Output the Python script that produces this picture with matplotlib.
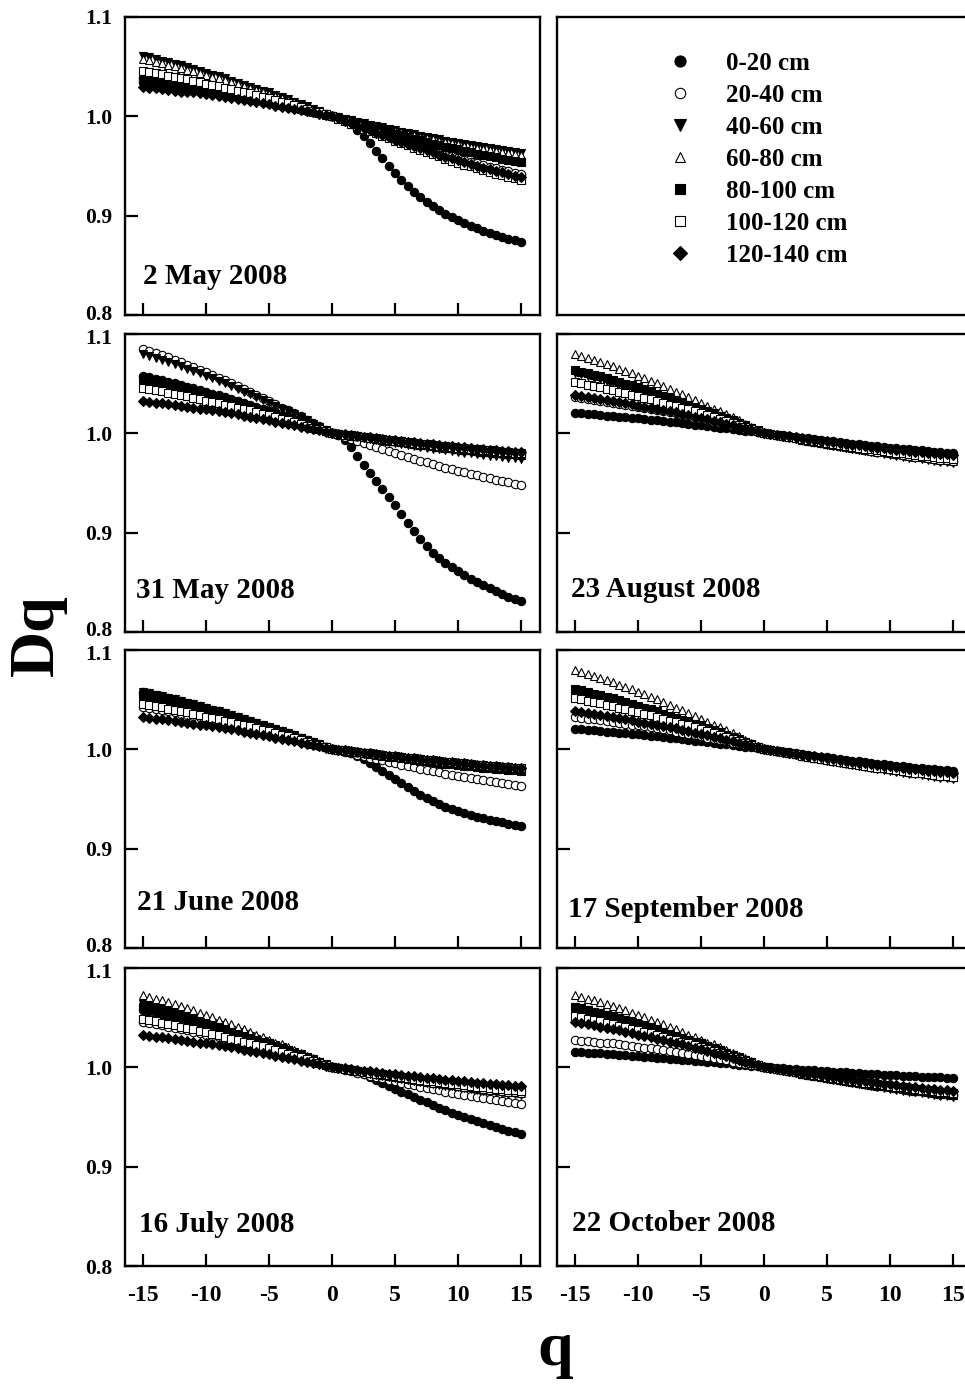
"""Generalised dimensions Dq against q for seven soil layers, seven dates"""

import numpy as np
import matplotlib
matplotlib.use("Agg")
import matplotlib.pyplot as plt
from matplotlib.lines import Line2D
from matplotlib.transforms import offset_copy

plt.rcParams['font.family'] = ['Liberation Serif', 'DejaVu Serif']
plt.rcParams['font.weight'] = 'bold'
plt.rcParams['axes.unicode_minus'] = False

# moment order q
q = [-15, -14.5, -14, -13.5, -13, -12.5, -12, -11.5, -11, -10.5, -10, -9.5, -9, -8.5, -8, -7.5,
     -7, -6.5, -6, -5.5, -5, -4.5, -4, -3.5, -3, -2.5, -2, -1.5, -1, -0.5, 0,
     0.5, 1, 1.5, 2, 2.5, 3, 3.5, 4, 4.5, 5, 5.5, 6, 6.5, 7, 7.5, 8, 8.5, 9, 9.5, 10,
     10.5, 11, 11.5, 12, 12.5, 13, 13.5, 14, 14.5, 15]

layers = ['0-20 cm', '20-40 cm', '40-60 cm', '60-80 cm', '80-100 cm', '100-120 cm', '120-140 cm']
y_ticks = [0.8, 0.9, 1.0, 1.1]
x_ticks = [-15, -10, -5, 0, 5, 10, 15]

# Dq, stored as (Dq - 1) in thousandths
# --- 2 May 2008
may02_0_20 = [35, 34, 33, 32, 32, 31, 30, 29, 28, 27, 25, 24, 23, 22, 21, 20, 19, 17, 16, 15, 13, 12, 11, 10, 8, 7, 5, 4, 3, 1, 0,
              -1, -4, -8, -14, -20, -27, -35, -42, -50, -57, -64, -70, -76, -81, -86, -90, -94, -98, -101, -104, -107, -110, -112, -115, -117, -119, -121, -123, -125, -127]
may02_20_40 = [39, 38, 37, 36, 35, 34, 33, 32, 31, 30, 28, 27, 26, 25, 23, 22, 21, 19, 18, 16, 15, 14, 12, 11, 9, 8, 6, 5, 3, 2, 0,
               -2, -5, -7, -9, -11, -14, -16, -18, -20, -22, -25, -27, -29, -31, -33, -35, -37, -39, -40, -42, -44, -46, -47, -49, -51, -52, -54, -55, -57, -58]
may02_40_60 = [61, 60, 58, 56, 55, 53, 52, 50, 48, 46, 44, 42, 41, 39, 36, 34, 32, 30, 28, 26, 24, 21, 19, 17, 14, 12, 10, 7, 5, 2, 0,
               -1, -3, -4, -6, -7, -9, -10, -11, -13, -14, -16, -17, -18, -20, -21, -22, -23, -25, -26, -27, -28, -29, -30, -31, -32, -33, -34, -35, -36, -37]
may02_60_80 = [58, 57, 55, 54, 52, 51, 49, 47, 46, 44, 42, 40, 39, 37, 35, 33, 31, 29, 27, 25, 22, 20, 18, 16, 14, 11, 9, 7, 5, 2, 0,
               -2, -3, -5, -6, -8, -9, -11, -12, -14, -15, -16, -18, -19, -21, -22, -23, -25, -26, -27, -28, -30, -31, -32, -33, -34, -35, -36, -37, -38, -39]
may02_80_100 = [37, 36, 35, 34, 33, 32, 31, 30, 29, 28, 27, 26, 25, 23, 22, 21, 20, 18, 17, 16, 14, 13, 11, 10, 9, 7, 6, 4, 3, 1, 0,
                -2, -4, -5, -7, -9, -11, -13, -14, -16, -18, -19, -21, -23, -24, -26, -28, -29, -31, -32, -33, -35, -36, -38, -39, -40, -41, -43, -44, -45, -46]
may02_100_120 = [46, 45, 44, 43, 41, 40, 39, 38, 36, 35, 33, 32, 31, 29, 28, 26, 24, 23, 21, 19, 18, 16, 14, 13, 11, 9, 7, 5, 4, 2, 0,
                 -3, -5, -8, -10, -13, -15, -17, -20, -22, -25, -27, -29, -32, -34, -36, -38, -40, -43, -45, -47, -49, -50, -52, -54, -56, -58, -59, -61, -62, -64]
may02_120_140 = [30, 29, 29, 28, 27, 26, 25, 25, 24, 23, 22, 21, 20, 19, 18, 17, 16, 15, 14, 13, 12, 10, 9, 8, 7, 6, 5, 4, 2, 1, 0,
                 -2, -5, -7, -10, -12, -14, -17, -19, -21, -24, -26, -28, -30, -32, -34, -36, -39, -41, -42, -44, -46, -48, -50, -52, -53, -55, -56, -58, -60, -61]

# --- 31 May 2008
may31_0_20 = [58, 57, 55, 54, 52, 51, 49, 47, 46, 44, 42, 40, 39, 37, 35, 33, 31, 29, 27, 25, 22, 20, 18, 16, 14, 11, 9, 7, 5, 2, 0,
              -2, -7, -14, -23, -32, -40, -48, -56, -64, -72, -81, -90, -98, -106, -113, -120, -126, -131, -135, -139, -143, -147, -150, -153, -156, -159, -162, -165, -167, -169]
may31_20_40 = [85, 83, 81, 79, 77, 74, 72, 69, 67, 64, 62, 59, 56, 54, 51, 48, 45, 42, 39, 36, 33, 30, 26, 23, 20, 17, 13, 10, 7, 3, 0,
               -2, -4, -6, -8, -10, -12, -14, -16, -18, -20, -22, -24, -26, -28, -29, -31, -33, -35, -36, -38, -39, -41, -42, -44, -45, -47, -48, -49, -51, -52]
may31_40_60 = [80, 78, 76, 74, 72, 70, 68, 65, 63, 61, 58, 56, 53, 51, 48, 45, 42, 40, 37, 34, 31, 28, 25, 22, 19, 16, 13, 9, 6, 3, 0,
               -1, -2, -3, -4, -5, -6, -7, -8, -9, -10, -11, -12, -13, -14, -15, -16, -16, -17, -18, -19, -20, -20, -21, -22, -23, -23, -24, -25, -25, -26]
may31_60_80 = [52, 51, 49, 48, 47, 45, 44, 42, 41, 39, 38, 36, 35, 33, 31, 29, 28, 26, 24, 22, 20, 18, 16, 14, 12, 10, 8, 6, 4, 2, 0,
               -1, -2, -3, -3, -4, -5, -6, -7, -8, -8, -9, -10, -11, -12, -12, -13, -14, -15, -15, -16, -17, -17, -18, -19, -19, -20, -20, -21, -21, -22]
may31_80_100 = [55, 54, 52, 51, 50, 48, 47, 45, 43, 42, 40, 38, 37, 35, 33, 31, 29, 27, 25, 23, 21, 19, 17, 15, 13, 11, 9, 6, 4, 2, 0,
                -1, -2, -3, -3, -4, -5, -6, -7, -8, -8, -9, -10, -11, -12, -12, -13, -14, -15, -15, -16, -17, -17, -18, -19, -19, -20, -20, -21, -21, -22]
may31_100_120 = [46, 45, 44, 43, 41, 40, 39, 38, 36, 35, 33, 32, 31, 29, 28, 26, 24, 23, 21, 19, 18, 16, 14, 13, 11, 9, 7, 5, 4, 2, 0,
                 -1, -2, -2, -3, -4, -5, -5, -6, -7, -8, -8, -9, -10, -11, -11, -12, -13, -13, -14, -15, -15, -16, -16, -17, -17, -18, -19, -19, -20, -20]
may31_120_140 = [33, 32, 31, 31, 30, 29, 28, 27, 26, 25, 24, 23, 22, 21, 20, 19, 17, 16, 15, 14, 13, 11, 10, 9, 8, 6, 5, 4, 3, 1, 0,
                 -1, -1, -2, -3, -4, -4, -5, -6, -7, -7, -8, -9, -9, -10, -11, -11, -12, -13, -13, -14, -14, -15, -16, -16, -17, -17, -18, -18, -19, -19]

# --- 21 June 2008
jun21_0_20 = [58, 57, 55, 54, 52, 51, 49, 47, 46, 44, 42, 40, 39, 37, 35, 33, 31, 29, 27, 25, 22, 20, 18, 16, 14, 11, 9, 7, 5, 2, 0,
              -1, -2, -4, -7, -10, -14, -18, -22, -26, -30, -34, -38, -42, -46, -49, -52, -55, -58, -60, -62, -64, -66, -68, -69, -71, -72, -73, -75, -76, -77]
jun21_20_40 = [43, 42, 41, 40, 39, 38, 36, 35, 34, 33, 31, 30, 29, 27, 26, 24, 23, 21, 20, 18, 17, 15, 13, 12, 10, 8, 7, 5, 3, 2, 0,
               -1, -3, -4, -6, -7, -9, -10, -11, -13, -14, -16, -17, -18, -20, -21, -22, -23, -25, -26, -27, -28, -29, -30, -31, -32, -33, -34, -35, -36, -37]
jun21_40_60 = [58, 57, 55, 54, 52, 51, 49, 47, 46, 44, 42, 40, 39, 37, 35, 33, 31, 29, 27, 25, 22, 20, 18, 16, 14, 11, 9, 7, 5, 2, 0,
               -1, -2, -3, -3, -4, -5, -6, -7, -8, -8, -9, -10, -11, -12, -12, -13, -14, -15, -15, -16, -17, -17, -18, -19, -19, -20, -20, -21, -21, -22]
jun21_60_80 = [52, 51, 49, 48, 47, 45, 44, 42, 41, 39, 38, 36, 35, 33, 31, 29, 28, 26, 24, 22, 20, 18, 16, 14, 12, 10, 8, 6, 4, 2, 0,
               -1, -2, -2, -3, -4, -5, -5, -6, -7, -8, -8, -9, -10, -11, -11, -12, -13, -13, -14, -15, -15, -16, -16, -17, -17, -18, -19, -19, -20, -20]
jun21_80_100 = [55, 54, 52, 51, 50, 48, 47, 45, 43, 42, 40, 38, 37, 35, 33, 31, 29, 27, 25, 23, 21, 19, 17, 15, 13, 11, 9, 6, 4, 2, 0,
                -1, -2, -3, -3, -4, -5, -6, -7, -8, -8, -9, -10, -11, -12, -12, -13, -14, -15, -15, -16, -17, -17, -18, -19, -19, -20, -20, -21, -21, -22]
jun21_100_120 = [46, 45, 44, 43, 41, 40, 39, 38, 36, 35, 33, 32, 31, 29, 28, 26, 24, 23, 21, 19, 18, 16, 14, 13, 11, 9, 7, 5, 4, 2, 0,
                 -1, -1, -2, -3, -4, -4, -5, -6, -7, -7, -8, -9, -9, -10, -11, -11, -12, -13, -13, -14, -14, -15, -16, -16, -17, -17, -18, -18, -19, -19]
jun21_120_140 = [33, 32, 31, 31, 30, 29, 28, 27, 26, 25, 24, 23, 22, 21, 20, 19, 17, 16, 15, 14, 13, 11, 10, 9, 8, 6, 5, 4, 3, 1, 0,
                 -1, -1, -2, -3, -4, -4, -5, -6, -7, -7, -8, -9, -9, -10, -11, -11, -12, -13, -13, -14, -14, -15, -16, -16, -17, -17, -18, -18, -19, -19]

# --- 16 July 2008
jul16_0_20 = [58, 57, 55, 54, 52, 51, 49, 47, 46, 44, 42, 40, 39, 37, 35, 33, 31, 29, 27, 25, 22, 20, 18, 16, 14, 11, 9, 7, 5, 2, 0,
              -1, -2, -3, -5, -7, -10, -13, -16, -19, -22, -25, -27, -30, -33, -35, -38, -41, -43, -46, -48, -50, -52, -54, -56, -58, -60, -62, -64, -65, -67]
jul16_20_40 = [46, 45, 44, 43, 41, 40, 39, 38, 36, 35, 33, 32, 31, 29, 28, 26, 24, 23, 21, 19, 18, 16, 14, 13, 11, 9, 7, 5, 4, 2, 0,
               -1, -3, -4, -6, -7, -9, -10, -11, -13, -14, -16, -17, -18, -20, -21, -22, -23, -25, -26, -27, -28, -29, -30, -31, -32, -33, -34, -35, -36, -37]
jul16_40_60 = [64, 62, 61, 59, 58, 56, 54, 52, 50, 49, 47, 45, 43, 40, 38, 36, 34, 32, 29, 27, 25, 22, 20, 17, 15, 13, 10, 8, 5, 3, 0,
               -1, -2, -3, -4, -5, -7, -8, -9, -10, -11, -12, -13, -14, -15, -16, -17, -18, -19, -19, -20, -21, -22, -23, -24, -24, -25, -26, -27, -27, -28]
jul16_60_80 = [73, 71, 69, 68, 66, 64, 62, 60, 58, 55, 53, 51, 48, 46, 44, 41, 39, 36, 33, 31, 28, 25, 23, 20, 17, 14, 11, 9, 6, 3, 0,
               -1, -2, -3, -4, -5, -6, -7, -8, -9, -10, -11, -12, -13, -14, -15, -16, -16, -17, -18, -19, -20, -20, -21, -22, -23, -23, -24, -25, -25, -26]
jul16_80_100 = [61, 60, 58, 56, 55, 53, 52, 50, 48, 46, 44, 42, 41, 39, 36, 34, 32, 30, 28, 26, 24, 21, 19, 17, 14, 12, 10, 7, 5, 2, 0,
                -1, -2, -3, -4, -5, -6, -7, -7, -8, -9, -10, -11, -12, -13, -14, -14, -15, -16, -17, -17, -18, -19, -20, -20, -21, -22, -22, -23, -23, -24]
jul16_100_120 = [49, 48, 47, 45, 44, 43, 41, 40, 39, 37, 36, 34, 33, 31, 29, 28, 26, 24, 22, 21, 19, 17, 15, 13, 11, 10, 8, 6, 4, 2, 0,
                 -1, -2, -3, -4, -5, -6, -7, -7, -8, -9, -10, -11, -12, -13, -14, -14, -15, -16, -17, -17, -18, -19, -20, -20, -21, -22, -22, -23, -23, -24]
jul16_120_140 = [33, 32, 31, 31, 30, 29, 28, 27, 26, 25, 24, 23, 22, 21, 20, 19, 17, 16, 15, 14, 13, 11, 10, 9, 8, 6, 5, 4, 3, 1, 0,
                 -1, -1, -2, -3, -4, -4, -5, -6, -7, -7, -8, -9, -9, -10, -11, -11, -12, -13, -13, -14, -14, -15, -16, -16, -17, -17, -18, -18, -19, -19]

# --- 23 August 2008
aug23_0_20 = [20, 20, 19, 19, 18, 17, 17, 16, 16, 15, 15, 14, 13, 13, 12, 11, 11, 10, 9, 8, 8, 7, 6, 5, 5, 4, 3, 2, 2, 1, 0,
              -1, -2, -2, -3, -4, -5, -5, -6, -7, -8, -8, -9, -10, -11, -11, -12, -13, -13, -14, -15, -15, -16, -16, -17, -17, -18, -19, -19, -20, -20]
aug23_20_40 = [37, 36, 35, 34, 33, 32, 31, 30, 29, 28, 27, 26, 25, 23, 22, 21, 20, 18, 17, 16, 14, 13, 11, 10, 9, 7, 6, 4, 3, 1, 0,
               -1, -2, -3, -4, -5, -7, -8, -9, -10, -11, -12, -13, -14, -15, -16, -17, -18, -19, -19, -20, -21, -22, -23, -24, -24, -25, -26, -27, -27, -28]
aug23_40_60 = [61, 60, 58, 56, 55, 53, 52, 50, 48, 46, 44, 42, 41, 39, 36, 34, 32, 30, 28, 26, 24, 21, 19, 17, 14, 12, 10, 7, 5, 2, 0,
               -1, -2, -4, -5, -6, -7, -8, -9, -10, -12, -13, -14, -15, -16, -17, -18, -19, -20, -21, -22, -23, -24, -25, -25, -26, -27, -28, -29, -29, -30]
aug23_60_80 = [80, 78, 76, 74, 72, 70, 68, 65, 63, 61, 58, 56, 53, 51, 48, 45, 42, 40, 37, 34, 31, 28, 25, 22, 19, 16, 13, 9, 6, 3, 0,
               -1, -2, -3, -4, -5, -7, -8, -9, -10, -11, -12, -13, -14, -15, -16, -17, -18, -19, -19, -20, -21, -22, -23, -24, -24, -25, -26, -27, -27, -28]
aug23_80_100 = [64, 62, 61, 59, 58, 56, 54, 52, 50, 49, 47, 45, 43, 40, 38, 36, 34, 32, 29, 27, 25, 22, 20, 17, 15, 13, 10, 8, 5, 3, 0,
                -1, -2, -3, -4, -5, -6, -7, -7, -8, -9, -10, -11, -12, -13, -14, -14, -15, -16, -17, -17, -18, -19, -20, -20, -21, -22, -22, -23, -23, -24]
aug23_100_120 = [52, 51, 49, 48, 47, 45, 44, 42, 41, 39, 38, 36, 35, 33, 31, 29, 28, 26, 24, 22, 20, 18, 16, 14, 12, 10, 8, 6, 4, 2, 0,
                 -1, -2, -3, -4, -5, -6, -7, -8, -9, -10, -11, -12, -13, -14, -15, -16, -16, -17, -18, -19, -20, -20, -21, -22, -23, -23, -24, -25, -25, -26]
aug23_120_140 = [39, 38, 37, 36, 35, 34, 33, 32, 31, 30, 28, 27, 26, 25, 23, 22, 21, 19, 18, 16, 15, 14, 12, 11, 9, 8, 6, 5, 3, 2, 0,
                 -1, -2, -3, -3, -4, -5, -6, -7, -8, -8, -9, -10, -11, -12, -12, -13, -14, -15, -15, -16, -17, -17, -18, -19, -19, -20, -20, -21, -21, -22]

# --- 17 September 2008
sep17_0_20 = [20, 20, 19, 19, 18, 17, 17, 16, 16, 15, 15, 14, 13, 13, 12, 11, 11, 10, 9, 8, 8, 7, 6, 5, 5, 4, 3, 2, 2, 1, 0,
              -1, -2, -3, -3, -4, -5, -6, -7, -8, -8, -9, -10, -11, -12, -12, -13, -14, -15, -15, -16, -17, -17, -18, -19, -19, -20, -20, -21, -21, -22]
sep17_20_40 = [33, 32, 31, 31, 30, 29, 28, 27, 26, 25, 24, 23, 22, 21, 20, 19, 17, 16, 15, 14, 13, 11, 10, 9, 8, 6, 5, 4, 3, 1, 0,
               -1, -2, -3, -4, -5, -7, -8, -9, -10, -11, -12, -13, -14, -15, -16, -17, -18, -19, -19, -20, -21, -22, -23, -24, -24, -25, -26, -27, -27, -28]
sep17_40_60 = [58, 57, 55, 54, 52, 51, 49, 47, 46, 44, 42, 40, 39, 37, 35, 33, 31, 29, 27, 25, 22, 20, 18, 16, 14, 11, 9, 7, 5, 2, 0,
               -1, -2, -4, -5, -6, -7, -8, -9, -10, -12, -13, -14, -15, -16, -17, -18, -19, -20, -21, -22, -23, -24, -25, -25, -26, -27, -28, -29, -29, -30]
sep17_60_80 = [80, 78, 76, 74, 72, 70, 68, 65, 63, 61, 58, 56, 53, 51, 48, 45, 42, 40, 37, 34, 31, 28, 25, 22, 19, 16, 13, 9, 6, 3, 0,
               -1, -2, -3, -4, -5, -7, -8, -9, -10, -11, -12, -13, -14, -15, -16, -17, -18, -19, -19, -20, -21, -22, -23, -24, -24, -25, -26, -27, -27, -28]
sep17_80_100 = [61, 60, 58, 56, 55, 53, 52, 50, 48, 46, 44, 42, 41, 39, 36, 34, 32, 30, 28, 26, 24, 21, 19, 17, 14, 12, 10, 7, 5, 2, 0,
                -1, -2, -3, -4, -5, -6, -7, -8, -9, -10, -11, -12, -13, -14, -15, -16, -16, -17, -18, -19, -20, -20, -21, -22, -23, -23, -24, -25, -25, -26]
sep17_100_120 = [52, 51, 49, 48, 47, 45, 44, 42, 41, 39, 38, 36, 35, 33, 31, 29, 28, 26, 24, 22, 20, 18, 16, 14, 12, 10, 8, 6, 4, 2, 0,
                 -1, -2, -3, -4, -5, -7, -8, -9, -10, -11, -12, -13, -14, -15, -16, -17, -18, -19, -19, -20, -21, -22, -23, -24, -24, -25, -26, -27, -27, -28]
sep17_120_140 = [39, 38, 37, 36, 35, 34, 33, 32, 31, 30, 28, 27, 26, 25, 23, 22, 21, 19, 18, 16, 15, 14, 12, 11, 9, 8, 6, 5, 3, 2, 0,
                 -1, -2, -3, -4, -5, -6, -7, -7, -8, -9, -10, -11, -12, -13, -14, -14, -15, -16, -17, -17, -18, -19, -20, -20, -21, -22, -22, -23, -23, -24]

# --- 22 October 2008
oct22_0_20 = [15, 15, 14, 14, 14, 13, 13, 12, 12, 11, 11, 10, 10, 9, 9, 8, 8, 7, 7, 6, 6, 5, 5, 4, 4, 3, 2, 2, 1, 1, 0,
              0, -1, -1, -2, -2, -3, -3, -3, -4, -4, -5, -5, -5, -6, -6, -7, -7, -7, -8, -8, -8, -9, -9, -9, -10, -10, -10, -10, -11, -11]
oct22_20_40 = [28, 27, 27, 26, 25, 24, 24, 23, 22, 21, 20, 19, 19, 18, 17, 16, 15, 14, 13, 12, 11, 10, 9, 8, 7, 5, 4, 3, 2, 1, 0,
               -1, -2, -3, -4, -5, -7, -8, -9, -10, -11, -12, -13, -14, -15, -16, -17, -18, -19, -19, -20, -21, -22, -23, -24, -24, -25, -26, -27, -27, -28]
oct22_40_60 = [61, 60, 58, 56, 55, 53, 52, 50, 48, 46, 44, 42, 41, 39, 36, 34, 32, 30, 28, 26, 24, 21, 19, 17, 14, 12, 10, 7, 5, 2, 0,
               -1, -2, -4, -5, -6, -7, -8, -9, -10, -12, -13, -14, -15, -16, -17, -18, -19, -20, -21, -22, -23, -24, -25, -25, -26, -27, -28, -29, -29, -30]
oct22_60_80 = [73, 71, 69, 68, 66, 64, 62, 60, 58, 55, 53, 51, 48, 46, 44, 41, 39, 36, 33, 31, 28, 25, 23, 20, 17, 14, 11, 9, 6, 3, 0,
               -1, -2, -3, -4, -5, -7, -8, -9, -10, -11, -12, -13, -14, -15, -16, -17, -18, -19, -19, -20, -21, -22, -23, -24, -24, -25, -26, -27, -27, -28]
oct22_80_100 = [61, 60, 58, 56, 55, 53, 52, 50, 48, 46, 44, 42, 41, 39, 36, 34, 32, 30, 28, 26, 24, 21, 19, 17, 14, 12, 10, 7, 5, 2, 0,
                -1, -2, -3, -4, -5, -7, -8, -9, -10, -11, -12, -13, -14, -15, -16, -17, -18, -19, -19, -20, -21, -22, -23, -24, -24, -25, -26, -27, -27, -28]
oct22_100_120 = [52, 51, 49, 48, 47, 45, 44, 42, 41, 39, 38, 36, 35, 33, 31, 29, 28, 26, 24, 22, 20, 18, 16, 14, 12, 10, 8, 6, 4, 2, 0,
                 -1, -2, -3, -4, -5, -6, -7, -8, -9, -10, -11, -12, -13, -14, -15, -16, -16, -17, -18, -19, -20, -20, -21, -22, -23, -23, -24, -25, -25, -26]
oct22_120_140 = [46, 45, 44, 43, 41, 40, 39, 38, 36, 35, 33, 32, 31, 29, 28, 26, 24, 23, 21, 19, 18, 16, 14, 13, 11, 9, 7, 5, 4, 2, 0,
                 -1, -2, -3, -4, -5, -6, -7, -7, -8, -9, -10, -11, -12, -13, -14, -14, -15, -16, -17, -17, -18, -19, -20, -20, -21, -22, -22, -23, -23, -24]

# marker, face colour, size in the panels, size in the legend
STYLES = [('o', 'black', 6.0, 8.0),
          ('o', 'white', 6.0, 7.5),
          ('v', 'black', 6.4, 8.0),
          ('^', 'white', 6.4, 7.5),
          ('s', 'black', 5.4, 7.0),
          ('s', 'white', 5.4, 7.0),
          ('D', 'black', 5.0, 7.0)]

# (row, column, date label, label x, label y, series)
PANELS = [
    (0, 0, '2 May 2008', 0.043, 0.104,
     [may02_0_20, may02_20_40, may02_40_60, may02_60_80, may02_80_100, may02_100_120, may02_120_140]),
    (1, 0, '31 May 2008', 0.026, 0.114,
     [may31_0_20, may31_20_40, may31_40_60, may31_60_80, may31_80_100, may31_100_120, may31_120_140]),
    (2, 0, '21 June 2008', 0.028, 0.126,
     [jun21_0_20, jun21_20_40, jun21_40_60, jun21_60_80, jun21_80_100, jun21_100_120, jun21_120_140]),
    (3, 0, '16 July 2008', 0.033, 0.113,
     [jul16_0_20, jul16_20_40, jul16_40_60, jul16_60_80, jul16_80_100, jul16_100_120, jul16_120_140]),
    (1, 1, '23 August 2008', 0.033, 0.116,
     [aug23_0_20, aug23_20_40, aug23_40_60, aug23_60_80, aug23_80_100, aug23_100_120, aug23_120_140]),
    (2, 1, '17 September 2008', 0.026, 0.104,
     [sep17_0_20, sep17_20_40, sep17_40_60, sep17_60_80, sep17_80_100, sep17_100_120, sep17_120_140]),
    (3, 1, '22 October 2008', 0.035, 0.118,
     [oct22_0_20, oct22_20_40, oct22_40_60, oct22_60_80, oct22_80_100, oct22_100_120, oct22_120_140]),
]

W, H = 965, 1388
COL_LEFT = [125, 557]            # pixel position of left spine
ROW_BOTTOM = [315, 632, 948, 1266]  # pixel position of bottom spine
AX_W, AX_H = 415, 298


def make_axes(fig, row, col):
    """Add one panel at the pixel position of the original"""
    rect = [COL_LEFT[col] / W, 1 - ROW_BOTTOM[row] / H, AX_W / W, AX_H / H]
    ax = fig.add_axes(rect)
    for spine in ax.spines.values():
        spine.set_linewidth(1.7)
    return ax


def style_panel(fig, ax, row, col):
    ax.set_xlim(-16.43, 16.5)
    ax.set_ylim(0.8, 1.1)
    ax.set_xticks(x_ticks)
    ax.set_yticks(y_ticks)
    ax.tick_params(direction='in', length=9, width=1.6, top=False, right=False)
    ax.tick_params(axis='x', labelsize=17, pad=14, labelbottom=(row == 3))
    ax.tick_params(axis='y', labelleft=False)
    if col != 0:
        return
    # y labels by hand: where two panels meet, 0.8 and 1.1 are squeezed apart
    for value in y_ticks:
        shift = 0
        if value == 0.8 and row < 3:
            shift = 3
        if value == 1.1 and row > 0:
            shift = -3
        trans = offset_copy(ax.get_yaxis_transform(), fig=fig, y=shift, units='dots')
        ax.text(-0.031, value, f'{value:.1f}', transform=trans, fontsize=15.5,
                fontweight='bold', ha='right', va='center_baseline')


fig = plt.figure(figsize=(W / 100, H / 100), dpi=100)

for row, col, label, lx, ly, series in PANELS:
    ax = make_axes(fig, row, col)
    for values, (marker, face, size, _) in zip(series, STYLES):
        dq = 1 + np.array(values) / 1000.0
        ax.plot(q, dq, linestyle='none', marker=marker, markersize=size,
                markerfacecolor=face, markeredgecolor='black', markeredgewidth=0.8)
    style_panel(fig, ax, row, col)
    ax.text(lx, ly, label, transform=ax.transAxes, fontsize=21,
            fontweight='bold', ha='left', va='baseline')

# top right box holds the legend only
lax = make_axes(fig, 0, 1)
lax.set_xticks([])
lax.set_yticks([])
handles = [Line2D([], [], linestyle='none', marker=m, markersize=ls,
                  markerfacecolor=face, markeredgecolor='black', markeredgewidth=0.8)
           for m, face, _, ls in STYLES]
lax.legend(handles, layers, loc='upper left', bbox_to_anchor=(0.266, 0.882),
           frameon=False, fontsize=18, handlelength=1.0, handletextpad=1.34,
           labelspacing=0.36, borderpad=0, borderaxespad=0)

fig.text(0.039, 0.5425, 'Dq', rotation=90, fontsize=46, fontweight='bold',
         ha='center', va='center')
fig.text(0.575, 0.0166, 'q', fontsize=46, fontweight='bold',
         ha='center', va='baseline')

fig.savefig('out.png', dpi=100)
